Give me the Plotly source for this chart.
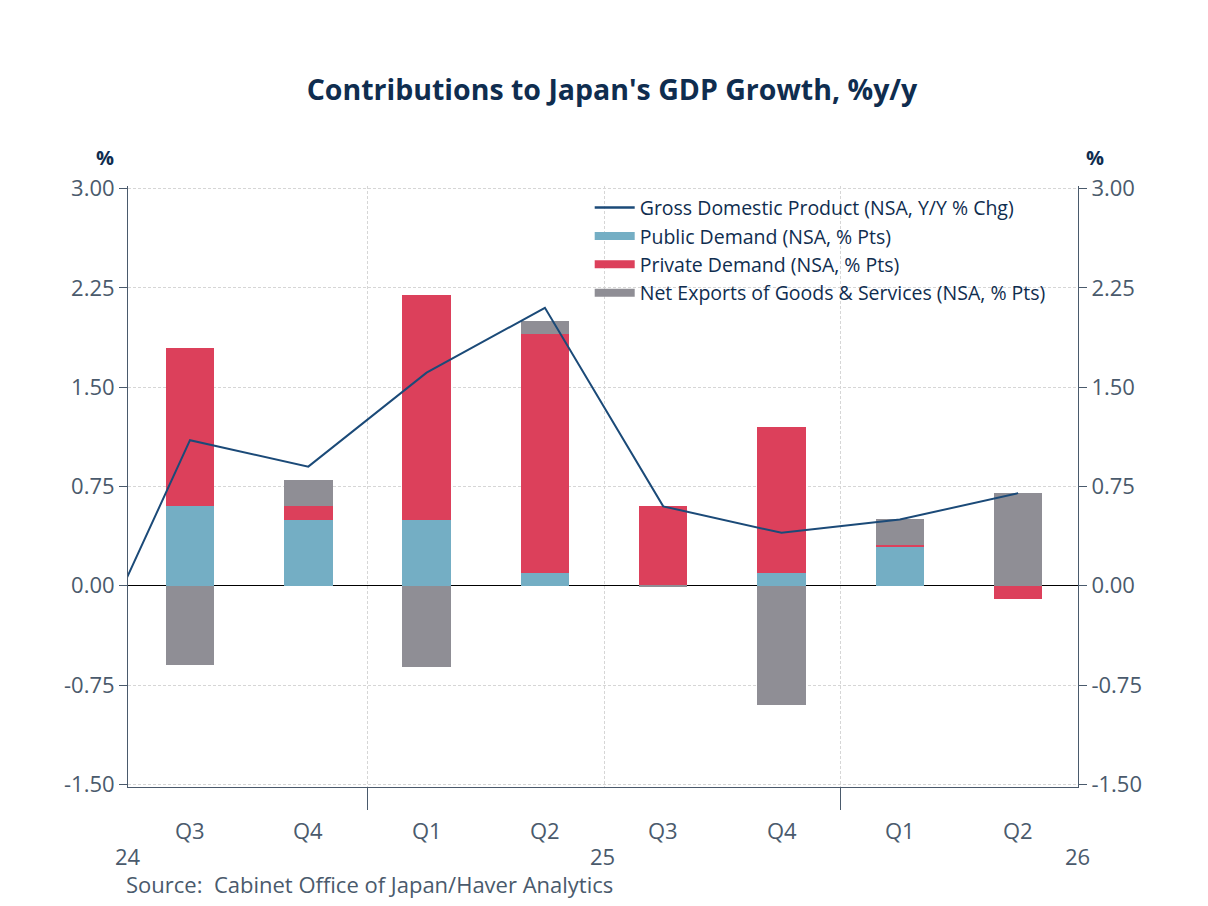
import plotly.graph_objects as go

# quarters plotted at x = 0..7, with the Q2 2024 GDP point at x = -1 (just off the left edge)
quarters = ['Q3', 'Q4', 'Q1', 'Q2', 'Q3', 'Q4', 'Q1', 'Q2']
bar_x = [0, 1, 2, 3, 4, 5, 6, 7]
public_demand = [0.60, 0.50, 0.50, 0.10, 0.005, 0.10, 0.30, 0.00]
private_demand = [1.20, 0.10, 1.70, 1.80, 0.60, 1.10, 0.005, -0.10]
net_exports = [-0.60, 0.20, -0.61, 0.10, -0.01, -0.90, 0.20, 0.70]

gdp_x = [-1, 0, 1, 2, 3, 4, 5, 6, 7]
gdp = [-0.85, 1.10, 0.90, 1.61, 2.10, 0.60, 0.40, 0.50, 0.70]

year_labels = ['24', '25', '26']
year_pos = [-0.52, 3.49, 7.5]

series_names = ['Gross Domestic Product (NSA, Y/Y % Chg)', 'Public Demand (NSA, % Pts)',
                'Private Demand (NSA, % Pts)', 'Net Exports of Goods & Services (NSA, % Pts)']
series_colors = ['#1b4a78', '#74aec4', '#dc405b', '#8f8e95']

navy = '#0f2d4f'
axis_col = '#4a5a6c'
grid_col = '#d6d6d6'
font_family = 'Open Sans, Noto Sans, sans-serif'

fig = go.Figure()

fig.add_trace(go.Scatter(x=gdp_x, y=gdp, mode='lines', name=series_names[0],
                         line=dict(color=series_colors[0], width=2), showlegend=False))
for vals, name, col in zip([public_demand, private_demand, net_exports], series_names[1:], series_colors[1:]):
    fig.add_trace(go.Bar(x=bar_x, y=vals, name=name, width=0.41, showlegend=False,
                         marker=dict(color=col, line=dict(width=0))))

# legend entries drawn as short thick lines, like the original
for i, (name, col) in enumerate(zip(series_names, series_colors)):
    fig.add_trace(go.Scatter(x=[None], y=[None], mode='lines', name=name,
                             line=dict(color=col, width=2.5 if i == 0 else 8)))

# invisible trace to carry the right axis
fig.add_trace(go.Scatter(x=[0], y=[0], yaxis='y2', mode='markers', marker=dict(opacity=0),
                         showlegend=False, hoverinfo='skip'))

yticks = [-1.5, -0.75, 0, 0.75, 1.5, 2.25, 3.0]
ytext = ['-1.50', '-0.75', '0.00', '0.75', '1.50', '2.25', '3.00']

fig.update_layout(
    width=1208, height=906,
    paper_bgcolor='white', plot_bgcolor='white',
    barmode='relative', bargap=0,
    margin=dict(l=120, r=138, t=178, b=127),
    font=dict(family=font_family, color=axis_col, size=22),
    title=dict(text="<b>Contributions to Japan's GDP Growth, %y/y</b>", x=0.5, xanchor='center',
               y=0.909, yanchor='middle', font=dict(size=28.5, color=navy)),
    showlegend=True,
    legend=dict(x=0.486, y=0.996, xanchor='left', yanchor='top', bgcolor='rgba(0,0,0,0)',
                font=dict(size=19.5, color=navy), tracegroupgap=0, itemwidth=40,
                traceorder='normal'),
    xaxis=dict(range=[-0.524, 7.506], tickmode='array', tickvals=[1.5, 5.5], ticktext=['', ''],
               ticks='outside', ticklen=22, tickcolor=axis_col, tickwidth=1,
               showgrid=True, gridcolor=grid_col, griddash='3px,2px', gridwidth=1,
               minor=dict(tickmode='array', tickvals=[3.5], showgrid=True, gridcolor=grid_col,
                          griddash='3px,2px', ticks=''),
               showline=True, linecolor=axis_col, linewidth=1, zeroline=False, mirror=False),
    yaxis=dict(range=[-1.52, 3.02], tickmode='array', tickvals=yticks, ticktext=ytext,
               ticks='outside', ticklen=8, tickcolor=axis_col,
               showgrid=True, gridcolor=grid_col, griddash='3px,2px', gridwidth=1,
               zeroline=True, zerolinecolor='black', zerolinewidth=1.2,
               showline=True, linecolor=axis_col, linewidth=1),
    yaxis2=dict(range=[-1.52, 3.02], overlaying='y', side='right', tickmode='array',
                tickvals=yticks, ticktext=ytext, ticks='outside', ticklen=8, tickcolor=axis_col,
                showgrid=False, zeroline=False, showline=True, linecolor=axis_col, linewidth=1),
)

annotations = []
for xv, q in zip(bar_x, quarters):
    annotations.append(dict(x=xv, y=-0.071, xref='x', yref='paper', text=q, showarrow=False,
                            xanchor='center', yanchor='middle', font=dict(size=22, color=axis_col)))
for xv, yl in zip(year_pos, year_labels):
    annotations.append(dict(x=xv, y=-0.114, xref='x', yref='paper', text=yl, showarrow=False,
                            xanchor='center', yanchor='middle', font=dict(size=22, color=axis_col)))
annotations.append(dict(x=-0.013, y=1.048, xref='paper', yref='paper', text='<b>%</b>', showarrow=False,
                        xanchor='right', yanchor='middle', font=dict(size=20, color=navy)))
annotations.append(dict(x=1.018, y=1.048, xref='paper', yref='paper', text='<b>%</b>', showarrow=False,
                        xanchor='center', yanchor='middle', font=dict(size=20, color=navy)))
annotations.append(dict(x=-0.004, y=-0.162, xref='paper', yref='paper',
                        text='Source:  Cabinet Office of Japan/Haver Analytics', showarrow=False,
                        xanchor='left', yanchor='middle', font=dict(size=22, color=axis_col)))
fig.update_layout(annotations=annotations)

fig.write_html("out.html")
